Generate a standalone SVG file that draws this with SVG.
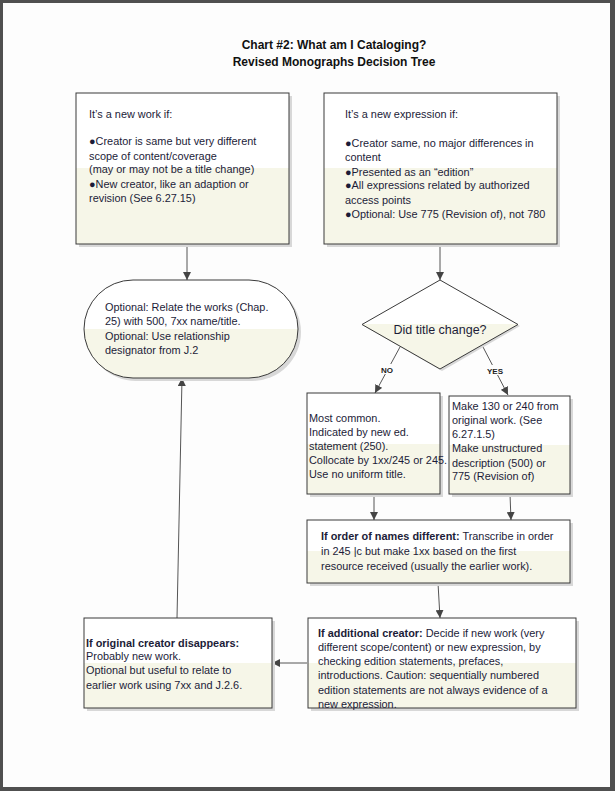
<svg xmlns="http://www.w3.org/2000/svg" width="615" height="791" viewBox="0 0 615 791">
<defs>
<linearGradient id="fill" x1="0" y1="0" x2="0" y2="1">
<stop offset="0" stop-color="#ffffff"/><stop offset="0.5" stop-color="#ffffff"/>
<stop offset="0.5" stop-color="#f6f6e8"/><stop offset="1" stop-color="#f6f6e8"/>
</linearGradient>
<marker id="arr" markerUnits="userSpaceOnUse" markerWidth="9" markerHeight="8" refX="8" refY="4" orient="auto">
<path d="M0,0 L8,4 L0,8 z" fill="#444"/>
</marker>
<style>
.box{fill:url(#fill);stroke:#3a3a3a;stroke-width:1}
.sh{fill:#d8d8d8}
.t{font-family:"Liberation Sans",Arial,sans-serif;font-size:10.9px;fill:#1c1c38}
.b{font-weight:bold}
.title{font-family:"Liberation Sans",Arial,sans-serif;font-size:12px;font-weight:bold;fill:#111;text-anchor:middle}
.lbl{font-family:"Liberation Sans",Arial,sans-serif;font-size:8px;font-weight:bold;fill:#222;text-anchor:middle}
.c{fill:none;stroke:#555;stroke-width:1}
</style>
</defs>
<rect width="615" height="791" fill="#505050"/>
<rect x="3" y="3" width="607" height="784" fill="#fdfdfd"/>
<g id="title">
<text class="title" x="334" y="49">Chart #2: What am I Cataloging?</text>
<text class="title" x="334" y="66">Revised Monographs Decision Tree</text>
</g>
<g id="connectors">
<line class="c" x1="187" y1="244" x2="187" y2="280" marker-end="url(#arr)"/>
<line class="c" x1="440" y1="244" x2="440" y2="280" marker-end="url(#arr)"/>
<line class="c" x1="400" y1="347" x2="375" y2="393" marker-end="url(#arr)"/>
<line class="c" x1="483" y1="347" x2="508" y2="395" marker-end="url(#arr)"/>
<line class="c" x1="374" y1="494" x2="374" y2="520" marker-end="url(#arr)"/>
<line class="c" x1="510" y1="494" x2="511" y2="520" marker-end="url(#arr)"/>
<line class="c" x1="438" y1="583" x2="440" y2="618" marker-end="url(#arr)"/>
<line class="c" x1="307" y1="663" x2="272" y2="663" marker-end="url(#arr)"/>
<line class="c" x1="177" y1="618" x2="182" y2="378" marker-end="url(#arr)"/>
<rect x="378" y="364" width="18" height="10" fill="#fdfdfd"/>
<text class="lbl" x="387" y="372.5">NO</text>
<rect x="485" y="365" width="20" height="10" fill="#fdfdfd"/>
<text class="lbl" x="495" y="373.5">YES</text>
</g>
<g id="newWork">
<rect class="sh" x="79" y="96" width="213" height="151"/>
<rect class="box" x="76" y="93" width="213" height="151"/>
<text class="t" x="89" y="118">It’s a new work if:</text>
<text class="t" x="89" y="145">●Creator is same but very different</text>
<text class="t" x="89" y="159.5">scope of content/coverage</text>
<text class="t" x="89" y="173">(may or may not be a title change)</text>
<text class="t" x="89" y="188">●New creator, like an adaption or</text>
<text class="t" x="89" y="202">revision (See 6.27.15)</text>
</g>
<g id="newExpression">
<rect class="sh" x="327" y="96" width="233" height="151"/>
<rect class="box" x="324" y="93" width="233" height="151"/>
<text class="t" x="345" y="118">It’s a new expression if:</text>
<text class="t" x="345" y="147">●Creator same, no major differences in</text>
<text class="t" x="345" y="161">content</text>
<text class="t" x="345" y="175.5">●Presented as an “edition”</text>
<text class="t" x="345" y="189">●All expressions related by authorized</text>
<text class="t" x="345" y="204">access points</text>
<text class="t" x="345" y="218">●Optional: Use 775 (Revision of), not 780</text>
</g>
<g id="relateWorks">
<rect class="sh" x="87" y="283" width="214" height="98" rx="49"/>
<rect class="box" x="84" y="280" width="214" height="98" rx="49"/>
<text class="t" x="105" y="311">Optional: Relate the works (Chap.</text>
<text class="t" x="105" y="325">25) with 500, 7xx name/title.</text>
<text class="t" x="105" y="340">Optional: Use relationship</text>
<text class="t" x="105" y="354">designator from J.2</text>
</g>
<g id="titleChange">
<polygon class="sh" points="442,282 520,326 442,371 364,326"/>
<polygon class="box" points="440,280 518,324.5 440,369 362,324.5"/>
<text class="t" x="440" y="333.5" style="font-size:12.5px;text-anchor:middle">Did title change?</text>
</g>
<g id="noBox">
<rect class="sh" x="310" y="396" width="133" height="101"/>
<rect class="box" x="307" y="393" width="133" height="101"/>
<text class="t" x="309" y="421.5">Most common.</text>
<text class="t" x="309" y="435.5">Indicated by new ed.</text>
<text class="t" x="309" y="450">statement (250).</text>
<text class="t" x="309" y="463.5">Collocate by 1xx/245 or 245.</text>
<text class="t" x="309" y="478">Use no uniform title.</text>
</g>
<g id="yesBox">
<rect class="sh" x="452" y="399" width="121" height="98"/>
<rect class="box" x="449" y="396" width="121" height="98"/>
<text class="t" x="452" y="410">Make 130 or 240 from</text>
<text class="t" x="452" y="423.5">original work. (See</text>
<text class="t" x="452" y="438">6.27.1.5)</text>
<text class="t" x="452" y="452">Make unstructured</text>
<text class="t" x="452" y="467">description (500) or</text>
<text class="t" x="452" y="480">775 (Revision of)</text>
</g>
<g id="orderNames">
<rect class="sh" x="310" y="523" width="263" height="63"/>
<rect class="box" x="307" y="520" width="263" height="63"/>
<text class="t" x="321" y="540"><tspan class="b">If order of names different:</tspan> Transcribe in order</text>
<text class="t" x="321" y="555">in 245 |c but make 1xx based on the first</text>
<text class="t" x="321" y="569.5">resource received (usually the earlier work).</text>
</g>
<g id="additionalCreator">
<rect class="sh" x="311" y="621" width="268" height="90"/>
<rect class="box" x="308" y="618" width="268" height="90"/>
<text class="t" x="318" y="636.5"><tspan class="b">If additional creator:</tspan> Decide if new work (very</text>
<text class="t" x="318" y="651">different scope/content) or new expression, by</text>
<text class="t" x="318" y="665">checking edition statements, prefaces,</text>
<text class="t" x="318" y="679">introductions. Caution: sequentially numbered</text>
<text class="t" x="318" y="693.5">edition statements are not always evidence of a</text>
<text class="t" x="318" y="707.5">new expression.</text>
</g>
<g id="creatorDisappears">
<rect class="sh" x="87" y="621" width="188" height="90"/>
<rect class="box" x="84" y="618" width="188" height="90"/>
<text class="t b" x="86" y="646.5">If original creator disappears:</text>
<text class="t" x="86" y="660">Probably new work.</text>
<text class="t" x="86" y="674">Optional but useful to relate to</text>
<text class="t" x="86" y="688.5">earlier work using 7xx and J.2.6.</text>
</g>
</svg>
